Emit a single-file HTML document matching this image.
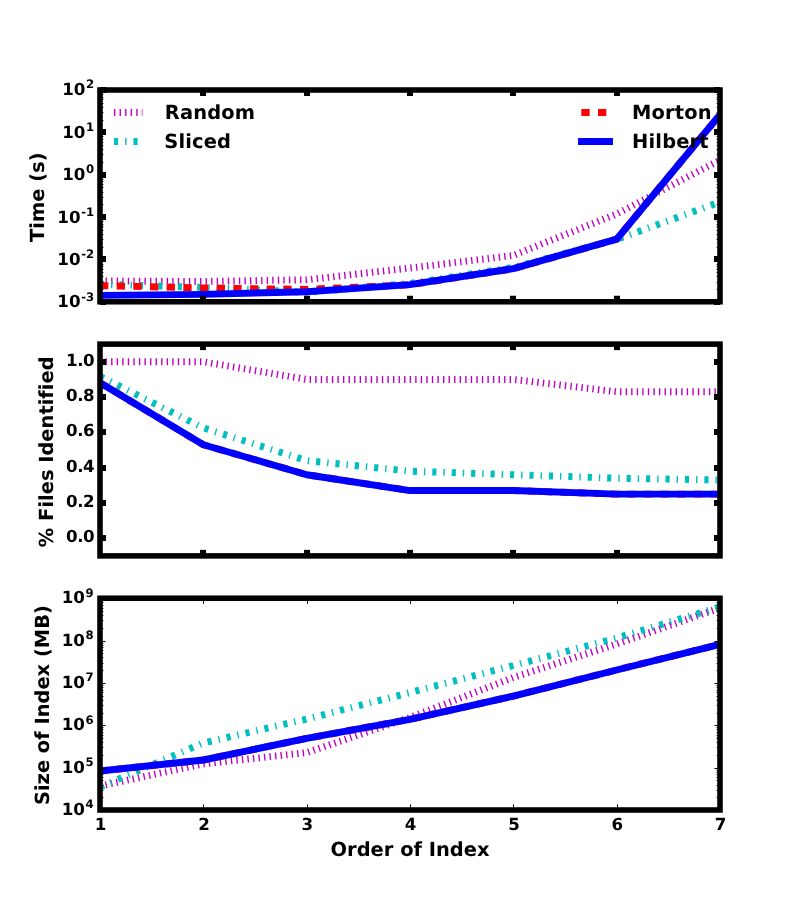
<!DOCTYPE html>
<html><head><meta charset="utf-8"><title>Index order comparison</title>
<style>html,body{margin:0;padding:0;background:#fff}body{width:800px;height:900px;overflow:hidden}</style>
</head><body>
<svg width="800" height="900" viewBox="0 0 800 900" font-family='"DejaVu Sans","Liberation Sans",sans-serif' font-weight="bold" style="display:block;font-variant-ligatures:none" text-rendering="geometricPrecision">
<rect width="800" height="900" fill="#fff"/>
<defs>
<clipPath id="c0"><rect x="100.0" y="90.00" width="620.0" height="211.76"/></clipPath>
<clipPath id="c1"><rect x="100.0" y="344.12" width="620.0" height="211.76"/></clipPath>
<clipPath id="c2"><rect x="100.0" y="598.24" width="620.0" height="211.76"/></clipPath>
</defs>
<polyline points="100.00,281.00 203.33,281.50 306.67,279.75 410.00,268.00 513.33,255.40 616.67,214.00 720.00,160.00" fill="none" stroke="#bf00bf" stroke-width="6.944" stroke-linejoin="round" stroke-dasharray="1.389,4.167" stroke-linecap="butt" clip-path="url(#c0)"/>
<polyline points="100.00,284.20 203.33,287.40 306.67,292.30 410.00,283.40 513.33,267.40 616.67,239.50 720.00,202.00" fill="none" stroke="#00bfbf" stroke-width="6.944" stroke-linejoin="round" stroke-dasharray="4.167,6.944,1.389,6.944" stroke-linecap="butt" clip-path="url(#c0)"/>
<polyline points="100.00,285.60 203.33,288.00 306.67,289.40 410.00,284.80 513.33,268.80 616.67,239.20 720.00,114.60" fill="none" stroke="#ff0000" stroke-width="6.944" stroke-linejoin="round" stroke-dasharray="8.333,8.333" stroke-linecap="butt" clip-path="url(#c0)"/>
<polyline points="100.00,295.40 203.33,294.40 306.67,291.70 410.00,284.60 513.33,268.60 616.67,239.20 720.00,114.60" fill="none" stroke="#0000ff" stroke-width="6.944" stroke-linejoin="round" stroke-linecap="square" clip-path="url(#c0)"/>
<line x1="203.00" x2="203.00" y1="301.76" y2="295.76" stroke="#000" stroke-width="6.000"/>
<line x1="203.00" x2="203.00" y1="90.00" y2="96.00" stroke="#000" stroke-width="6.000"/>
<line x1="307.00" x2="307.00" y1="301.76" y2="295.76" stroke="#000" stroke-width="6.000"/>
<line x1="307.00" x2="307.00" y1="90.00" y2="96.00" stroke="#000" stroke-width="6.000"/>
<line x1="410.00" x2="410.00" y1="301.76" y2="295.76" stroke="#000" stroke-width="6.000"/>
<line x1="410.00" x2="410.00" y1="90.00" y2="96.00" stroke="#000" stroke-width="6.000"/>
<line x1="513.00" x2="513.00" y1="301.76" y2="295.76" stroke="#000" stroke-width="6.000"/>
<line x1="513.00" x2="513.00" y1="90.00" y2="96.00" stroke="#000" stroke-width="6.000"/>
<line x1="617.00" x2="617.00" y1="301.76" y2="295.76" stroke="#000" stroke-width="6.000"/>
<line x1="617.00" x2="617.00" y1="90.00" y2="96.00" stroke="#000" stroke-width="6.000"/>
<line x1="100.00" x2="106.00" y1="302.00" y2="302.00" stroke="#000" stroke-width="6.000"/>
<line x1="720.00" x2="714.00" y1="302.00" y2="302.00" stroke="#000" stroke-width="6.000"/>
<line x1="100.00" x2="106.00" y1="259.00" y2="259.00" stroke="#000" stroke-width="6.000"/>
<line x1="720.00" x2="714.00" y1="259.00" y2="259.00" stroke="#000" stroke-width="6.000"/>
<line x1="100.00" x2="106.00" y1="217.00" y2="217.00" stroke="#000" stroke-width="6.000"/>
<line x1="720.00" x2="714.00" y1="217.00" y2="217.00" stroke="#000" stroke-width="6.000"/>
<line x1="100.00" x2="106.00" y1="175.00" y2="175.00" stroke="#000" stroke-width="6.000"/>
<line x1="720.00" x2="714.00" y1="175.00" y2="175.00" stroke="#000" stroke-width="6.000"/>
<line x1="100.00" x2="106.00" y1="132.00" y2="132.00" stroke="#000" stroke-width="6.000"/>
<line x1="720.00" x2="714.00" y1="132.00" y2="132.00" stroke="#000" stroke-width="6.000"/>
<line x1="100.00" x2="106.00" y1="90.00" y2="90.00" stroke="#000" stroke-width="6.000"/>
<line x1="720.00" x2="714.00" y1="90.00" y2="90.00" stroke="#000" stroke-width="6.000"/>
<line x1="100.00" x2="103.50" y1="289.50" y2="289.50" stroke="#000" stroke-width="1" stroke-opacity="0.8"/>
<line x1="720.00" x2="716.50" y1="289.50" y2="289.50" stroke="#000" stroke-width="1" stroke-opacity="0.8"/>
<line x1="100.00" x2="103.50" y1="282.50" y2="282.50" stroke="#000" stroke-width="1" stroke-opacity="0.8"/>
<line x1="720.00" x2="716.50" y1="282.50" y2="282.50" stroke="#000" stroke-width="1" stroke-opacity="0.8"/>
<line x1="100.00" x2="103.50" y1="276.50" y2="276.50" stroke="#000" stroke-width="1" stroke-opacity="0.8"/>
<line x1="720.00" x2="716.50" y1="276.50" y2="276.50" stroke="#000" stroke-width="1" stroke-opacity="0.8"/>
<line x1="100.00" x2="103.50" y1="272.50" y2="272.50" stroke="#000" stroke-width="1" stroke-opacity="0.8"/>
<line x1="720.00" x2="716.50" y1="272.50" y2="272.50" stroke="#000" stroke-width="1" stroke-opacity="0.8"/>
<line x1="100.00" x2="103.50" y1="269.50" y2="269.50" stroke="#000" stroke-width="1" stroke-opacity="0.8"/>
<line x1="720.00" x2="716.50" y1="269.50" y2="269.50" stroke="#000" stroke-width="1" stroke-opacity="0.8"/>
<line x1="100.00" x2="103.50" y1="266.50" y2="266.50" stroke="#000" stroke-width="1" stroke-opacity="0.8"/>
<line x1="720.00" x2="716.50" y1="266.50" y2="266.50" stroke="#000" stroke-width="1" stroke-opacity="0.8"/>
<line x1="100.00" x2="103.50" y1="264.50" y2="264.50" stroke="#000" stroke-width="1" stroke-opacity="0.8"/>
<line x1="720.00" x2="716.50" y1="264.50" y2="264.50" stroke="#000" stroke-width="1" stroke-opacity="0.8"/>
<line x1="100.00" x2="103.50" y1="261.50" y2="261.50" stroke="#000" stroke-width="1" stroke-opacity="0.8"/>
<line x1="720.00" x2="716.50" y1="261.50" y2="261.50" stroke="#000" stroke-width="1" stroke-opacity="0.8"/>
<line x1="100.00" x2="103.50" y1="247.50" y2="247.50" stroke="#000" stroke-width="1" stroke-opacity="0.8"/>
<line x1="720.00" x2="716.50" y1="247.50" y2="247.50" stroke="#000" stroke-width="1" stroke-opacity="0.8"/>
<line x1="100.00" x2="103.50" y1="239.50" y2="239.50" stroke="#000" stroke-width="1" stroke-opacity="0.8"/>
<line x1="720.00" x2="716.50" y1="239.50" y2="239.50" stroke="#000" stroke-width="1" stroke-opacity="0.8"/>
<line x1="100.00" x2="103.50" y1="234.50" y2="234.50" stroke="#000" stroke-width="1" stroke-opacity="0.8"/>
<line x1="720.00" x2="716.50" y1="234.50" y2="234.50" stroke="#000" stroke-width="1" stroke-opacity="0.8"/>
<line x1="100.00" x2="103.50" y1="230.50" y2="230.50" stroke="#000" stroke-width="1" stroke-opacity="0.8"/>
<line x1="720.00" x2="716.50" y1="230.50" y2="230.50" stroke="#000" stroke-width="1" stroke-opacity="0.8"/>
<line x1="100.00" x2="103.50" y1="226.50" y2="226.50" stroke="#000" stroke-width="1" stroke-opacity="0.8"/>
<line x1="720.00" x2="716.50" y1="226.50" y2="226.50" stroke="#000" stroke-width="1" stroke-opacity="0.8"/>
<line x1="100.00" x2="103.50" y1="224.50" y2="224.50" stroke="#000" stroke-width="1" stroke-opacity="0.8"/>
<line x1="720.00" x2="716.50" y1="224.50" y2="224.50" stroke="#000" stroke-width="1" stroke-opacity="0.8"/>
<line x1="100.00" x2="103.50" y1="221.50" y2="221.50" stroke="#000" stroke-width="1" stroke-opacity="0.8"/>
<line x1="720.00" x2="716.50" y1="221.50" y2="221.50" stroke="#000" stroke-width="1" stroke-opacity="0.8"/>
<line x1="100.00" x2="103.50" y1="219.50" y2="219.50" stroke="#000" stroke-width="1" stroke-opacity="0.8"/>
<line x1="720.00" x2="716.50" y1="219.50" y2="219.50" stroke="#000" stroke-width="1" stroke-opacity="0.8"/>
<line x1="100.00" x2="103.50" y1="204.50" y2="204.50" stroke="#000" stroke-width="1" stroke-opacity="0.8"/>
<line x1="720.00" x2="716.50" y1="204.50" y2="204.50" stroke="#000" stroke-width="1" stroke-opacity="0.8"/>
<line x1="100.00" x2="103.50" y1="197.50" y2="197.50" stroke="#000" stroke-width="1" stroke-opacity="0.8"/>
<line x1="720.00" x2="716.50" y1="197.50" y2="197.50" stroke="#000" stroke-width="1" stroke-opacity="0.8"/>
<line x1="100.00" x2="103.50" y1="192.50" y2="192.50" stroke="#000" stroke-width="1" stroke-opacity="0.8"/>
<line x1="720.00" x2="716.50" y1="192.50" y2="192.50" stroke="#000" stroke-width="1" stroke-opacity="0.8"/>
<line x1="100.00" x2="103.50" y1="187.50" y2="187.50" stroke="#000" stroke-width="1" stroke-opacity="0.8"/>
<line x1="720.00" x2="716.50" y1="187.50" y2="187.50" stroke="#000" stroke-width="1" stroke-opacity="0.8"/>
<line x1="100.00" x2="103.50" y1="184.50" y2="184.50" stroke="#000" stroke-width="1" stroke-opacity="0.8"/>
<line x1="720.00" x2="716.50" y1="184.50" y2="184.50" stroke="#000" stroke-width="1" stroke-opacity="0.8"/>
<line x1="100.00" x2="103.50" y1="181.50" y2="181.50" stroke="#000" stroke-width="1" stroke-opacity="0.8"/>
<line x1="720.00" x2="716.50" y1="181.50" y2="181.50" stroke="#000" stroke-width="1" stroke-opacity="0.8"/>
<line x1="100.00" x2="103.50" y1="179.50" y2="179.50" stroke="#000" stroke-width="1" stroke-opacity="0.8"/>
<line x1="720.00" x2="716.50" y1="179.50" y2="179.50" stroke="#000" stroke-width="1" stroke-opacity="0.8"/>
<line x1="100.00" x2="103.50" y1="177.50" y2="177.50" stroke="#000" stroke-width="1" stroke-opacity="0.8"/>
<line x1="720.00" x2="716.50" y1="177.50" y2="177.50" stroke="#000" stroke-width="1" stroke-opacity="0.8"/>
<line x1="100.00" x2="103.50" y1="162.50" y2="162.50" stroke="#000" stroke-width="1" stroke-opacity="0.8"/>
<line x1="720.00" x2="716.50" y1="162.50" y2="162.50" stroke="#000" stroke-width="1" stroke-opacity="0.8"/>
<line x1="100.00" x2="103.50" y1="154.50" y2="154.50" stroke="#000" stroke-width="1" stroke-opacity="0.8"/>
<line x1="720.00" x2="716.50" y1="154.50" y2="154.50" stroke="#000" stroke-width="1" stroke-opacity="0.8"/>
<line x1="100.00" x2="103.50" y1="149.50" y2="149.50" stroke="#000" stroke-width="1" stroke-opacity="0.8"/>
<line x1="720.00" x2="716.50" y1="149.50" y2="149.50" stroke="#000" stroke-width="1" stroke-opacity="0.8"/>
<line x1="100.00" x2="103.50" y1="145.50" y2="145.50" stroke="#000" stroke-width="1" stroke-opacity="0.8"/>
<line x1="720.00" x2="716.50" y1="145.50" y2="145.50" stroke="#000" stroke-width="1" stroke-opacity="0.8"/>
<line x1="100.00" x2="103.50" y1="142.50" y2="142.50" stroke="#000" stroke-width="1" stroke-opacity="0.8"/>
<line x1="720.00" x2="716.50" y1="142.50" y2="142.50" stroke="#000" stroke-width="1" stroke-opacity="0.8"/>
<line x1="100.00" x2="103.50" y1="139.50" y2="139.50" stroke="#000" stroke-width="1" stroke-opacity="0.8"/>
<line x1="720.00" x2="716.50" y1="139.50" y2="139.50" stroke="#000" stroke-width="1" stroke-opacity="0.8"/>
<line x1="100.00" x2="103.50" y1="136.50" y2="136.50" stroke="#000" stroke-width="1" stroke-opacity="0.8"/>
<line x1="720.00" x2="716.50" y1="136.50" y2="136.50" stroke="#000" stroke-width="1" stroke-opacity="0.8"/>
<line x1="100.00" x2="103.50" y1="134.50" y2="134.50" stroke="#000" stroke-width="1" stroke-opacity="0.8"/>
<line x1="720.00" x2="716.50" y1="134.50" y2="134.50" stroke="#000" stroke-width="1" stroke-opacity="0.8"/>
<line x1="100.00" x2="103.50" y1="120.50" y2="120.50" stroke="#000" stroke-width="1" stroke-opacity="0.8"/>
<line x1="720.00" x2="716.50" y1="120.50" y2="120.50" stroke="#000" stroke-width="1" stroke-opacity="0.8"/>
<line x1="100.00" x2="103.50" y1="112.50" y2="112.50" stroke="#000" stroke-width="1" stroke-opacity="0.8"/>
<line x1="720.00" x2="716.50" y1="112.50" y2="112.50" stroke="#000" stroke-width="1" stroke-opacity="0.8"/>
<line x1="100.00" x2="103.50" y1="107.50" y2="107.50" stroke="#000" stroke-width="1" stroke-opacity="0.8"/>
<line x1="720.00" x2="716.50" y1="107.50" y2="107.50" stroke="#000" stroke-width="1" stroke-opacity="0.8"/>
<line x1="100.00" x2="103.50" y1="103.50" y2="103.50" stroke="#000" stroke-width="1" stroke-opacity="0.8"/>
<line x1="720.00" x2="716.50" y1="103.50" y2="103.50" stroke="#000" stroke-width="1" stroke-opacity="0.8"/>
<line x1="100.00" x2="103.50" y1="99.50" y2="99.50" stroke="#000" stroke-width="1" stroke-opacity="0.8"/>
<line x1="720.00" x2="716.50" y1="99.50" y2="99.50" stroke="#000" stroke-width="1" stroke-opacity="0.8"/>
<line x1="100.00" x2="103.50" y1="97.50" y2="97.50" stroke="#000" stroke-width="1" stroke-opacity="0.8"/>
<line x1="720.00" x2="716.50" y1="97.50" y2="97.50" stroke="#000" stroke-width="1" stroke-opacity="0.8"/>
<line x1="100.00" x2="103.50" y1="94.50" y2="94.50" stroke="#000" stroke-width="1" stroke-opacity="0.8"/>
<line x1="720.00" x2="716.50" y1="94.50" y2="94.50" stroke="#000" stroke-width="1" stroke-opacity="0.8"/>
<line x1="100.00" x2="103.50" y1="92.50" y2="92.50" stroke="#000" stroke-width="1" stroke-opacity="0.8"/>
<line x1="720.00" x2="716.50" y1="92.50" y2="92.50" stroke="#000" stroke-width="1" stroke-opacity="0.8"/>
<rect x="100.0" y="90.00" width="620.0" height="211.76" fill="none" stroke="#000" stroke-width="5.556" stroke-linejoin="miter"/>
<polyline points="100.00,361.76 203.33,361.76 306.67,379.41 410.00,379.41 513.33,379.41 616.67,391.76 720.00,391.76" fill="none" stroke="#bf00bf" stroke-width="6.944" stroke-linejoin="round" stroke-dasharray="1.389,4.167" stroke-linecap="butt" clip-path="url(#c1)"/>
<polyline points="100.00,376.41 203.33,427.94 306.67,460.59 410.00,471.18 513.33,474.71 616.67,478.24 720.00,480.00" fill="none" stroke="#00bfbf" stroke-width="6.944" stroke-linejoin="round" stroke-dasharray="4.167,6.944,1.389,6.944" stroke-linecap="butt" clip-path="url(#c1)"/>
<polyline points="100.00,382.76 203.33,444.71 306.67,474.71 410.00,490.59 513.33,490.59 616.67,494.12 720.00,494.12" fill="none" stroke="#ff0000" stroke-width="6.944" stroke-linejoin="round" stroke-dasharray="8.333,8.333" stroke-linecap="butt" clip-path="url(#c1)"/>
<polyline points="100.00,382.76 203.33,444.71 306.67,474.71 410.00,490.59 513.33,490.59 616.67,494.12 720.00,494.12" fill="none" stroke="#0000ff" stroke-width="6.944" stroke-linejoin="round" stroke-linecap="square" clip-path="url(#c1)"/>
<line x1="203.00" x2="203.00" y1="555.88" y2="549.88" stroke="#000" stroke-width="6.000"/>
<line x1="203.00" x2="203.00" y1="344.12" y2="350.12" stroke="#000" stroke-width="6.000"/>
<line x1="307.00" x2="307.00" y1="555.88" y2="549.88" stroke="#000" stroke-width="6.000"/>
<line x1="307.00" x2="307.00" y1="344.12" y2="350.12" stroke="#000" stroke-width="6.000"/>
<line x1="410.00" x2="410.00" y1="555.88" y2="549.88" stroke="#000" stroke-width="6.000"/>
<line x1="410.00" x2="410.00" y1="344.12" y2="350.12" stroke="#000" stroke-width="6.000"/>
<line x1="513.00" x2="513.00" y1="555.88" y2="549.88" stroke="#000" stroke-width="6.000"/>
<line x1="513.00" x2="513.00" y1="344.12" y2="350.12" stroke="#000" stroke-width="6.000"/>
<line x1="617.00" x2="617.00" y1="555.88" y2="549.88" stroke="#000" stroke-width="6.000"/>
<line x1="617.00" x2="617.00" y1="344.12" y2="350.12" stroke="#000" stroke-width="6.000"/>
<line x1="100.00" x2="106.00" y1="538.00" y2="538.00" stroke="#000" stroke-width="6.000"/>
<line x1="720.00" x2="714.00" y1="538.00" y2="538.00" stroke="#000" stroke-width="6.000"/>
<line x1="100.00" x2="106.00" y1="503.00" y2="503.00" stroke="#000" stroke-width="6.000"/>
<line x1="720.00" x2="714.00" y1="503.00" y2="503.00" stroke="#000" stroke-width="6.000"/>
<line x1="100.00" x2="106.00" y1="468.00" y2="468.00" stroke="#000" stroke-width="6.000"/>
<line x1="720.00" x2="714.00" y1="468.00" y2="468.00" stroke="#000" stroke-width="6.000"/>
<line x1="100.00" x2="106.00" y1="432.00" y2="432.00" stroke="#000" stroke-width="6.000"/>
<line x1="720.00" x2="714.00" y1="432.00" y2="432.00" stroke="#000" stroke-width="6.000"/>
<line x1="100.00" x2="106.00" y1="397.00" y2="397.00" stroke="#000" stroke-width="6.000"/>
<line x1="720.00" x2="714.00" y1="397.00" y2="397.00" stroke="#000" stroke-width="6.000"/>
<line x1="100.00" x2="106.00" y1="362.00" y2="362.00" stroke="#000" stroke-width="6.000"/>
<line x1="720.00" x2="714.00" y1="362.00" y2="362.00" stroke="#000" stroke-width="6.000"/>
<rect x="100.0" y="344.12" width="620.0" height="211.76" fill="none" stroke="#000" stroke-width="5.556" stroke-linejoin="miter"/>
<polyline points="100.00,786.00 203.33,763.90 306.67,752.60 410.00,717.50 513.33,677.50 616.67,644.00 720.00,608.00" fill="none" stroke="#bf00bf" stroke-width="6.944" stroke-linejoin="round" stroke-dasharray="1.389,4.167" stroke-linecap="butt" clip-path="url(#c2)"/>
<polyline points="100.00,787.00 203.33,743.00 306.67,719.00 410.00,692.60 513.33,665.50 616.67,638.00 720.00,607.00" fill="none" stroke="#00bfbf" stroke-width="6.944" stroke-linejoin="round" stroke-dasharray="4.167,6.944,1.389,6.944" stroke-linecap="butt" clip-path="url(#c2)"/>
<polyline points="100.00,771.00 203.33,760.00 306.67,738.40 410.00,719.30 513.33,696.10 616.67,670.00 720.00,644.30" fill="none" stroke="#ff0000" stroke-width="6.944" stroke-linejoin="round" stroke-dasharray="8.333,8.333" stroke-linecap="butt" clip-path="url(#c2)"/>
<polyline points="100.00,771.00 203.33,760.00 306.67,738.40 410.00,719.30 513.33,696.10 616.67,670.00 720.00,644.30" fill="none" stroke="#0000ff" stroke-width="6.944" stroke-linejoin="round" stroke-linecap="square" clip-path="url(#c2)"/>
<line x1="203.50" x2="203.50" y1="810.00" y2="804.44" stroke="#000" stroke-width="1.000"/>
<line x1="203.50" x2="203.50" y1="598.24" y2="603.79" stroke="#000" stroke-width="1.000"/>
<line x1="307.50" x2="307.50" y1="810.00" y2="804.44" stroke="#000" stroke-width="1.000"/>
<line x1="307.50" x2="307.50" y1="598.24" y2="603.79" stroke="#000" stroke-width="1.000"/>
<line x1="410.50" x2="410.50" y1="810.00" y2="804.44" stroke="#000" stroke-width="1.000"/>
<line x1="410.50" x2="410.50" y1="598.24" y2="603.79" stroke="#000" stroke-width="1.000"/>
<line x1="513.50" x2="513.50" y1="810.00" y2="804.44" stroke="#000" stroke-width="1.000"/>
<line x1="513.50" x2="513.50" y1="598.24" y2="603.79" stroke="#000" stroke-width="1.000"/>
<line x1="617.50" x2="617.50" y1="810.00" y2="804.44" stroke="#000" stroke-width="1.000"/>
<line x1="617.50" x2="617.50" y1="598.24" y2="603.79" stroke="#000" stroke-width="1.000"/>
<line x1="100.00" x2="105.56" y1="810.50" y2="810.50" stroke="#000" stroke-width="1.000"/>
<line x1="720.00" x2="714.44" y1="810.50" y2="810.50" stroke="#000" stroke-width="1.000"/>
<line x1="100.00" x2="105.56" y1="768.50" y2="768.50" stroke="#000" stroke-width="1.000"/>
<line x1="720.00" x2="714.44" y1="768.50" y2="768.50" stroke="#000" stroke-width="1.000"/>
<line x1="100.00" x2="105.56" y1="725.50" y2="725.50" stroke="#000" stroke-width="1.000"/>
<line x1="720.00" x2="714.44" y1="725.50" y2="725.50" stroke="#000" stroke-width="1.000"/>
<line x1="100.00" x2="105.56" y1="683.50" y2="683.50" stroke="#000" stroke-width="1.000"/>
<line x1="720.00" x2="714.44" y1="683.50" y2="683.50" stroke="#000" stroke-width="1.000"/>
<line x1="100.00" x2="105.56" y1="641.50" y2="641.50" stroke="#000" stroke-width="1.000"/>
<line x1="720.00" x2="714.44" y1="641.50" y2="641.50" stroke="#000" stroke-width="1.000"/>
<line x1="100.00" x2="105.56" y1="598.50" y2="598.50" stroke="#000" stroke-width="1.000"/>
<line x1="720.00" x2="714.44" y1="598.50" y2="598.50" stroke="#000" stroke-width="1.000"/>
<line x1="100.00" x2="103.50" y1="797.50" y2="797.50" stroke="#000" stroke-width="1" stroke-opacity="0.8"/>
<line x1="720.00" x2="716.50" y1="797.50" y2="797.50" stroke="#000" stroke-width="1" stroke-opacity="0.8"/>
<line x1="100.00" x2="103.50" y1="790.50" y2="790.50" stroke="#000" stroke-width="1" stroke-opacity="0.8"/>
<line x1="720.00" x2="716.50" y1="790.50" y2="790.50" stroke="#000" stroke-width="1" stroke-opacity="0.8"/>
<line x1="100.00" x2="103.50" y1="785.50" y2="785.50" stroke="#000" stroke-width="1" stroke-opacity="0.8"/>
<line x1="720.00" x2="716.50" y1="785.50" y2="785.50" stroke="#000" stroke-width="1" stroke-opacity="0.8"/>
<line x1="100.00" x2="103.50" y1="780.50" y2="780.50" stroke="#000" stroke-width="1" stroke-opacity="0.8"/>
<line x1="720.00" x2="716.50" y1="780.50" y2="780.50" stroke="#000" stroke-width="1" stroke-opacity="0.8"/>
<line x1="100.00" x2="103.50" y1="777.50" y2="777.50" stroke="#000" stroke-width="1" stroke-opacity="0.8"/>
<line x1="720.00" x2="716.50" y1="777.50" y2="777.50" stroke="#000" stroke-width="1" stroke-opacity="0.8"/>
<line x1="100.00" x2="103.50" y1="774.50" y2="774.50" stroke="#000" stroke-width="1" stroke-opacity="0.8"/>
<line x1="720.00" x2="716.50" y1="774.50" y2="774.50" stroke="#000" stroke-width="1" stroke-opacity="0.8"/>
<line x1="100.00" x2="103.50" y1="772.50" y2="772.50" stroke="#000" stroke-width="1" stroke-opacity="0.8"/>
<line x1="720.00" x2="716.50" y1="772.50" y2="772.50" stroke="#000" stroke-width="1" stroke-opacity="0.8"/>
<line x1="100.00" x2="103.50" y1="770.50" y2="770.50" stroke="#000" stroke-width="1" stroke-opacity="0.8"/>
<line x1="720.00" x2="716.50" y1="770.50" y2="770.50" stroke="#000" stroke-width="1" stroke-opacity="0.8"/>
<line x1="100.00" x2="103.50" y1="755.50" y2="755.50" stroke="#000" stroke-width="1" stroke-opacity="0.8"/>
<line x1="720.00" x2="716.50" y1="755.50" y2="755.50" stroke="#000" stroke-width="1" stroke-opacity="0.8"/>
<line x1="100.00" x2="103.50" y1="747.50" y2="747.50" stroke="#000" stroke-width="1" stroke-opacity="0.8"/>
<line x1="720.00" x2="716.50" y1="747.50" y2="747.50" stroke="#000" stroke-width="1" stroke-opacity="0.8"/>
<line x1="100.00" x2="103.50" y1="742.50" y2="742.50" stroke="#000" stroke-width="1" stroke-opacity="0.8"/>
<line x1="720.00" x2="716.50" y1="742.50" y2="742.50" stroke="#000" stroke-width="1" stroke-opacity="0.8"/>
<line x1="100.00" x2="103.50" y1="738.50" y2="738.50" stroke="#000" stroke-width="1" stroke-opacity="0.8"/>
<line x1="720.00" x2="716.50" y1="738.50" y2="738.50" stroke="#000" stroke-width="1" stroke-opacity="0.8"/>
<line x1="100.00" x2="103.50" y1="735.50" y2="735.50" stroke="#000" stroke-width="1" stroke-opacity="0.8"/>
<line x1="720.00" x2="716.50" y1="735.50" y2="735.50" stroke="#000" stroke-width="1" stroke-opacity="0.8"/>
<line x1="100.00" x2="103.50" y1="732.50" y2="732.50" stroke="#000" stroke-width="1" stroke-opacity="0.8"/>
<line x1="720.00" x2="716.50" y1="732.50" y2="732.50" stroke="#000" stroke-width="1" stroke-opacity="0.8"/>
<line x1="100.00" x2="103.50" y1="729.50" y2="729.50" stroke="#000" stroke-width="1" stroke-opacity="0.8"/>
<line x1="720.00" x2="716.50" y1="729.50" y2="729.50" stroke="#000" stroke-width="1" stroke-opacity="0.8"/>
<line x1="100.00" x2="103.50" y1="727.50" y2="727.50" stroke="#000" stroke-width="1" stroke-opacity="0.8"/>
<line x1="720.00" x2="716.50" y1="727.50" y2="727.50" stroke="#000" stroke-width="1" stroke-opacity="0.8"/>
<line x1="100.00" x2="103.50" y1="713.50" y2="713.50" stroke="#000" stroke-width="1" stroke-opacity="0.8"/>
<line x1="720.00" x2="716.50" y1="713.50" y2="713.50" stroke="#000" stroke-width="1" stroke-opacity="0.8"/>
<line x1="100.00" x2="103.50" y1="705.50" y2="705.50" stroke="#000" stroke-width="1" stroke-opacity="0.8"/>
<line x1="720.00" x2="716.50" y1="705.50" y2="705.50" stroke="#000" stroke-width="1" stroke-opacity="0.8"/>
<line x1="100.00" x2="103.50" y1="700.50" y2="700.50" stroke="#000" stroke-width="1" stroke-opacity="0.8"/>
<line x1="720.00" x2="716.50" y1="700.50" y2="700.50" stroke="#000" stroke-width="1" stroke-opacity="0.8"/>
<line x1="100.00" x2="103.50" y1="696.50" y2="696.50" stroke="#000" stroke-width="1" stroke-opacity="0.8"/>
<line x1="720.00" x2="716.50" y1="696.50" y2="696.50" stroke="#000" stroke-width="1" stroke-opacity="0.8"/>
<line x1="100.00" x2="103.50" y1="692.50" y2="692.50" stroke="#000" stroke-width="1" stroke-opacity="0.8"/>
<line x1="720.00" x2="716.50" y1="692.50" y2="692.50" stroke="#000" stroke-width="1" stroke-opacity="0.8"/>
<line x1="100.00" x2="103.50" y1="690.50" y2="690.50" stroke="#000" stroke-width="1" stroke-opacity="0.8"/>
<line x1="720.00" x2="716.50" y1="690.50" y2="690.50" stroke="#000" stroke-width="1" stroke-opacity="0.8"/>
<line x1="100.00" x2="103.50" y1="687.50" y2="687.50" stroke="#000" stroke-width="1" stroke-opacity="0.8"/>
<line x1="720.00" x2="716.50" y1="687.50" y2="687.50" stroke="#000" stroke-width="1" stroke-opacity="0.8"/>
<line x1="100.00" x2="103.50" y1="685.50" y2="685.50" stroke="#000" stroke-width="1" stroke-opacity="0.8"/>
<line x1="720.00" x2="716.50" y1="685.50" y2="685.50" stroke="#000" stroke-width="1" stroke-opacity="0.8"/>
<line x1="100.00" x2="103.50" y1="670.50" y2="670.50" stroke="#000" stroke-width="1" stroke-opacity="0.8"/>
<line x1="720.00" x2="716.50" y1="670.50" y2="670.50" stroke="#000" stroke-width="1" stroke-opacity="0.8"/>
<line x1="100.00" x2="103.50" y1="663.50" y2="663.50" stroke="#000" stroke-width="1" stroke-opacity="0.8"/>
<line x1="720.00" x2="716.50" y1="663.50" y2="663.50" stroke="#000" stroke-width="1" stroke-opacity="0.8"/>
<line x1="100.00" x2="103.50" y1="657.50" y2="657.50" stroke="#000" stroke-width="1" stroke-opacity="0.8"/>
<line x1="720.00" x2="716.50" y1="657.50" y2="657.50" stroke="#000" stroke-width="1" stroke-opacity="0.8"/>
<line x1="100.00" x2="103.50" y1="653.50" y2="653.50" stroke="#000" stroke-width="1" stroke-opacity="0.8"/>
<line x1="720.00" x2="716.50" y1="653.50" y2="653.50" stroke="#000" stroke-width="1" stroke-opacity="0.8"/>
<line x1="100.00" x2="103.50" y1="650.50" y2="650.50" stroke="#000" stroke-width="1" stroke-opacity="0.8"/>
<line x1="720.00" x2="716.50" y1="650.50" y2="650.50" stroke="#000" stroke-width="1" stroke-opacity="0.8"/>
<line x1="100.00" x2="103.50" y1="647.50" y2="647.50" stroke="#000" stroke-width="1" stroke-opacity="0.8"/>
<line x1="720.00" x2="716.50" y1="647.50" y2="647.50" stroke="#000" stroke-width="1" stroke-opacity="0.8"/>
<line x1="100.00" x2="103.50" y1="645.50" y2="645.50" stroke="#000" stroke-width="1" stroke-opacity="0.8"/>
<line x1="720.00" x2="716.50" y1="645.50" y2="645.50" stroke="#000" stroke-width="1" stroke-opacity="0.8"/>
<line x1="100.00" x2="103.50" y1="643.50" y2="643.50" stroke="#000" stroke-width="1" stroke-opacity="0.8"/>
<line x1="720.00" x2="716.50" y1="643.50" y2="643.50" stroke="#000" stroke-width="1" stroke-opacity="0.8"/>
<line x1="100.00" x2="103.50" y1="628.50" y2="628.50" stroke="#000" stroke-width="1" stroke-opacity="0.8"/>
<line x1="720.00" x2="716.50" y1="628.50" y2="628.50" stroke="#000" stroke-width="1" stroke-opacity="0.8"/>
<line x1="100.00" x2="103.50" y1="620.50" y2="620.50" stroke="#000" stroke-width="1" stroke-opacity="0.8"/>
<line x1="720.00" x2="716.50" y1="620.50" y2="620.50" stroke="#000" stroke-width="1" stroke-opacity="0.8"/>
<line x1="100.00" x2="103.50" y1="615.50" y2="615.50" stroke="#000" stroke-width="1" stroke-opacity="0.8"/>
<line x1="720.00" x2="716.50" y1="615.50" y2="615.50" stroke="#000" stroke-width="1" stroke-opacity="0.8"/>
<line x1="100.00" x2="103.50" y1="611.50" y2="611.50" stroke="#000" stroke-width="1" stroke-opacity="0.8"/>
<line x1="720.00" x2="716.50" y1="611.50" y2="611.50" stroke="#000" stroke-width="1" stroke-opacity="0.8"/>
<line x1="100.00" x2="103.50" y1="608.50" y2="608.50" stroke="#000" stroke-width="1" stroke-opacity="0.8"/>
<line x1="720.00" x2="716.50" y1="608.50" y2="608.50" stroke="#000" stroke-width="1" stroke-opacity="0.8"/>
<line x1="100.00" x2="103.50" y1="605.50" y2="605.50" stroke="#000" stroke-width="1" stroke-opacity="0.8"/>
<line x1="720.00" x2="716.50" y1="605.50" y2="605.50" stroke="#000" stroke-width="1" stroke-opacity="0.8"/>
<line x1="100.00" x2="103.50" y1="602.50" y2="602.50" stroke="#000" stroke-width="1" stroke-opacity="0.8"/>
<line x1="720.00" x2="716.50" y1="602.50" y2="602.50" stroke="#000" stroke-width="1" stroke-opacity="0.8"/>
<line x1="100.00" x2="103.50" y1="600.50" y2="600.50" stroke="#000" stroke-width="1" stroke-opacity="0.8"/>
<line x1="720.00" x2="716.50" y1="600.50" y2="600.50" stroke="#000" stroke-width="1" stroke-opacity="0.8"/>
<rect x="100.0" y="598.24" width="620.0" height="211.76" fill="none" stroke="#000" stroke-width="5.556" stroke-linejoin="miter"/>
<text x="94.2" y="307.26" font-size="16.67" text-anchor="end">10<tspan font-size="11.67" dx="0.7" dy="-6.67">-3</tspan></text>
<text x="94.2" y="264.91" font-size="16.67" text-anchor="end">10<tspan font-size="11.67" dx="0.7" dy="-6.67">-2</tspan></text>
<text x="94.2" y="222.76" font-size="16.67" text-anchor="end">10<tspan font-size="11.67" dx="0.7" dy="-6.67">-1</tspan></text>
<text x="94.2" y="180.01" font-size="16.67" text-anchor="end">10<tspan font-size="11.67" dx="0.7" dy="-6.67">0</tspan></text>
<text x="94.2" y="137.55" font-size="16.67" text-anchor="end">10<tspan font-size="11.67" dx="0.7" dy="-6.67">1</tspan></text>
<text x="94.2" y="94.70" font-size="16.67" text-anchor="end">10<tspan font-size="11.67" dx="0.7" dy="-6.67">2</tspan></text>
<text x="93.7" y="815.00" font-size="16.67" text-anchor="end">10<tspan font-size="11.67" dx="0.7" dy="-6.67">4</tspan></text>
<text x="93.7" y="772.65" font-size="16.67" text-anchor="end">10<tspan font-size="11.67" dx="0.7" dy="-6.67">5</tspan></text>
<text x="93.7" y="730.29" font-size="16.67" text-anchor="end">10<tspan font-size="11.67" dx="0.7" dy="-6.67">6</tspan></text>
<text x="93.7" y="687.94" font-size="16.67" text-anchor="end">10<tspan font-size="11.67" dx="0.7" dy="-6.67">7</tspan></text>
<text x="93.7" y="645.59" font-size="16.67" text-anchor="end">10<tspan font-size="11.67" dx="0.7" dy="-6.67">8</tspan></text>
<text x="93.7" y="603.24" font-size="16.67" text-anchor="end">10<tspan font-size="11.67" dx="0.7" dy="-6.67">9</tspan></text>
<text x="94.1" y="542.12" font-size="16.67" text-anchor="end" letter-spacing="-0.5">0.0</text>
<text x="94.1" y="506.82" font-size="16.67" text-anchor="end" letter-spacing="-0.5">0.2</text>
<text x="94.1" y="471.53" font-size="16.67" text-anchor="end" letter-spacing="-0.5">0.4</text>
<text x="94.1" y="436.24" font-size="16.67" text-anchor="end" letter-spacing="-0.5">0.6</text>
<text x="94.1" y="400.94" font-size="16.67" text-anchor="end" letter-spacing="-0.5">0.8</text>
<text x="94.1" y="365.65" font-size="16.67" text-anchor="end" letter-spacing="-0.5">1.0</text>
<text x="100.60" y="829.60" font-size="16.67" text-anchor="middle">1</text>
<text x="203.93" y="829.60" font-size="16.67" text-anchor="middle">2</text>
<text x="307.27" y="829.60" font-size="16.67" text-anchor="middle">3</text>
<text x="410.60" y="829.60" font-size="16.67" text-anchor="middle">4</text>
<text x="513.93" y="829.60" font-size="16.67" text-anchor="middle">5</text>
<text x="617.27" y="829.60" font-size="16.67" text-anchor="middle">6</text>
<text x="720.60" y="829.60" font-size="16.67" text-anchor="middle">7</text>
<text x="410" y="856" font-size="19.44" text-anchor="middle">Order of Index</text>
<text transform="translate(44.2,197.18) rotate(-90)" font-size="19.44" text-anchor="middle">Time (s)</text>
<text transform="translate(53,451.80) rotate(-90)" font-size="19.44" text-anchor="middle">% Files Identified</text>
<text transform="translate(49.3,705.12) rotate(-90)" font-size="19.44" text-anchor="middle">Size of Index (MB)</text>
<polyline points="114.00,112.50 142.40,112.50" fill="none" stroke="#bf00bf" stroke-width="6.944" stroke-linejoin="round" stroke-dasharray="1.389,4.167" stroke-linecap="butt"/>
<text x="164.8" y="118.60" font-size="19.44" letter-spacing="0.15">Random</text>
<polyline points="114.00,141.50 142.40,141.50" fill="none" stroke="#00bfbf" stroke-width="6.944" stroke-linejoin="round" stroke-dasharray="4.167,6.944,1.389,6.944" stroke-linecap="butt"/>
<text x="164.3" y="147.60" font-size="19.44" letter-spacing="0.15">Sliced</text>
<polyline points="581.30,112.50 612.00,112.50" fill="none" stroke="#ff0000" stroke-width="6.944" stroke-linejoin="round" stroke-dasharray="8.333,8.333" stroke-linecap="butt"/>
<text x="632.1" y="118.60" font-size="19.44" letter-spacing="0.15">Morton</text>
<polyline points="581.50,141.50 609.50,141.50" fill="none" stroke="#0000ff" stroke-width="6.944" stroke-linejoin="round" stroke-linecap="square"/>
<text x="632.1" y="147.60" font-size="19.44" letter-spacing="0.15">Hilbert</text>
</svg>
</body></html>
